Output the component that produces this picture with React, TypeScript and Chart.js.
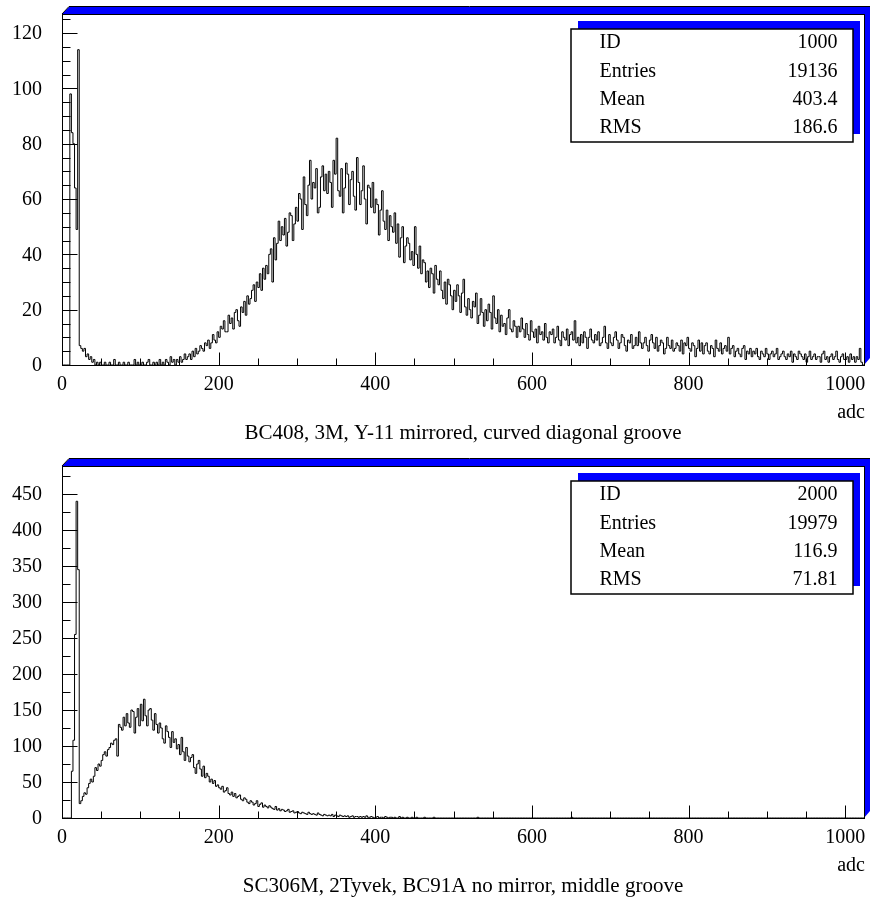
import React, { useEffect, useRef } from "react";
import Chart from "chart.js/auto";

// ---------------- data ----------------
const BIN_WIDTH = 2; // adc units per bin
const X_MIN = 0;
const X_MAX = 1024;
const X_TICK_LABELS = [0, 200, 400, 600, 800, 1000];
const X_MINOR_STEP = 50;
const X_TITLE = "adc";

// histogram ID 1000 (bins of 2 adc, from 0 to 1024)
const TOP_COUNTS = [
  0, 0, 0, 0, 0, 98, 84, 80, 64, 49,
  114, 7, 6, 5, 6, 3, 4, 2, 3, 1,
  2, 0, 1, 0, 1, 0, 0, 1, 0, 0,
  1, 0, 0, 2, 0, 0, 1, 0, 0, 1,
  0, 0, 1, 0, 0, 0, 2, 0, 1, 0,
  0, 1, 0, 0, 1, 2, 0, 0, 1, 0,
  1, 0, 2, 0, 1, 0, 2, 1, 0, 3,
  1, 2, 0, 2, 1, 3, 1, 2, 4, 2,
  3, 4, 2, 5, 3, 6, 4, 5, 7, 6,
  5, 8, 7, 9, 6, 8, 11, 9, 8, 12,
  10, 14, 13, 16, 12, 12, 18, 15, 17, 13,
  19, 20, 16, 14, 21, 19, 23, 18, 25, 22,
  24, 27, 29, 23, 30, 28, 33, 27, 35, 31,
  36, 33, 40, 42, 30, 46, 38, 44, 52, 45,
  50, 47, 53, 43, 48, 55, 54, 45, 51, 57,
  52, 62, 60, 49, 68, 58, 54, 65, 74, 60,
  66, 64, 71, 55, 57, 68, 72, 63, 69, 62,
  70, 66, 57, 74, 69, 82, 63, 61, 71, 55,
  64, 73, 69, 58, 67, 70, 61, 56, 75, 66,
  58, 63, 72, 60, 51, 65, 64, 57, 66, 55,
  60, 58, 47, 56, 63, 52, 49, 56, 45, 54,
  50, 48, 55, 44, 51, 39, 46, 50, 37, 43,
  46, 44, 38, 41, 36, 50, 40, 35, 43, 33,
  38, 37, 30, 34, 28, 35, 33, 26, 36, 31,
  29, 34, 27, 24, 30, 22, 31, 29, 25, 20,
  27, 23, 29, 25, 19, 26, 31, 21, 18, 24,
  20, 17, 23, 21, 26, 15, 18, 24, 19, 14,
  20, 16, 22, 19, 13, 25, 17, 15, 20, 12,
  18, 14, 15, 11, 17, 20, 13, 12, 16, 14,
  10, 14, 12, 17, 13, 10, 15, 11, 9, 16,
  12, 10, 13, 8, 14, 11, 12, 9, 15, 10,
  8, 12, 11, 13, 8, 10, 14, 9, 7, 12,
  10, 9, 13, 7, 11, 12, 9, 16, 8, 10,
  7, 11, 8, 12, 10, 6, 10, 13, 9, 8,
  11, 9, 12, 7, 8, 10, 14, 8, 6, 11,
  8, 7, 10, 12, 9, 6, 8, 11, 10, 7,
  5, 9, 8, 11, 6, 7, 10, 7, 12, 8,
  6, 8, 10, 7, 5, 9, 11, 8, 6, 10,
  5, 7, 9, 8, 4, 6, 10, 7, 6, 9,
  5, 6, 8, 7, 5, 9, 4, 8, 7, 10,
  6, 5, 8, 7, 3, 6, 9, 5, 8, 4,
  7, 8, 5, 4, 7, 6, 3, 9, 6, 5,
  8, 4, 6, 7, 5, 10, 4, 6, 7, 3,
  5, 6, 4, 3, 6, 7, 2, 5, 4, 6,
  3, 5, 4, 6, 3, 2, 5, 4, 3, 6,
  4, 2, 4, 5, 3, 4, 6, 2, 3, 4,
  5, 3, 2, 4, 3, 5, 1, 4, 3, 2,
  5, 4, 3, 2, 4, 1, 3, 5, 2, 3,
  4, 2, 3, 3, 1, 4, 5, 2, 3, 1,
  3, 4, 2, 3, 5, 2, 1, 3, 4, 2,
  2, 3, 1, 4, 2, 3, 1, 3, 2, 6,
  1, 0,
];
const TOP_Y_LABELS = [0, 20, 40, 60, 80, 100, 120];
const TOP_Y_MINOR_STEP = 5;
const TOP_Y_MAX = 126.9;
const TOP_TITLE = "BC408, 3M, Y-11 mirrored, curved diagonal groove";
const TOP_STAT_NAMES = ["ID", "Entries", "Mean", "RMS"];
const TOP_STAT_VALUES = ["1000", "19136", "403.4", "186.6"];

// histogram ID 2000 (bins of 2 adc, from 0 to 1024)
const BOTTOM_COUNTS = [
  0, 0, 0, 0, 0, 0, 65, 108, 255, 440,
  345, 20, 24, 30, 35, 33, 42, 48, 54, 50,
  58, 70, 66, 75, 72, 80, 88, 92, 86, 95,
  98, 104, 102, 108, 110, 86, 130, 126, 122, 140,
  128, 145, 132, 126, 150, 148, 118, 140, 152, 128,
  158, 135, 165, 142, 128, 150, 152, 136, 122, 145,
  130, 118, 132, 125, 110, 104, 128, 120, 112, 98,
  120, 105, 110, 96, 102, 88, 112, 92, 80, 98,
  86, 78, 84, 88, 70, 62, 75, 80, 68, 58,
  72, 56, 62, 58, 50, 54, 48, 52, 44, 46,
  42, 40, 44, 36, 38, 42, 34, 32, 36, 30,
  34, 28, 30, 32, 26, 24, 28, 26, 22, 20,
  24, 22, 18, 20, 24, 16, 19, 21, 15, 18,
  16, 14, 17, 15, 13, 12, 16, 11, 13, 10,
  12, 11, 9, 10, 12, 8, 9, 10, 7, 8,
  9, 7, 6, 8, 7, 6, 5, 8, 6, 5,
  6, 5, 4, 7, 5, 4, 3, 5, 4, 3,
  4, 3, 5, 2, 4, 3, 2, 4, 3, 2,
  3, 2, 3, 1, 2, 3, 1, 2, 2, 1,
  2, 1, 2, 1, 3, 1, 1, 2, 1, 0,
  1, 2, 0, 1, 1, 0, 2, 1, 0, 1,
  1, 0, 1, 0, 0, 2, 0, 1, 0, 0,
  1, 0, 0, 1, 0, 0, 1, 0, 0, 0,
  0, 1, 0, 0, 0, 0, 0, 1, 0, 0,
  0, 0, 0, 0, 0, 0, 0, 0, 0, 0,
  0, 0, 0, 0, 0, 0, 0, 0, 0, 0,
  0, 0, 0, 0, 0, 1, 0, 0, 0, 0,
  0, 0, 0, 0, 0, 0, 0, 0, 0, 0,
  0, 0, 0, 0, 0, 0, 0, 0, 0, 0,
  0, 0, 0, 0, 0, 0, 0, 0, 0, 0,
  0, 0, 0, 0, 0, 0, 0, 0, 0, 0,
  0, 0, 0, 0, 0, 0, 0, 0, 0, 0,
  0, 0, 0, 0, 0, 1, 0, 0, 0, 0,
  0, 0, 0, 0, 0, 0, 0, 0, 0, 0,
  0, 0, 0, 0, 0, 0, 0, 0, 0, 0,
  0, 0, 0, 0, 0, 0, 0, 0, 0, 0,
  0, 0, 0, 0, 0, 0, 0, 0, 0, 0,
  0, 0, 0, 0, 0, 0, 0, 0, 0, 0,
  0, 0, 0, 0, 0, 0, 0, 0, 0, 0,
  0, 0, 0, 0, 0, 0, 0, 0, 0, 0,
  0, 0, 0, 0, 0, 0, 0, 0, 0, 0,
  0, 0, 0, 0, 0, 0, 0, 0, 0, 0,
  0, 0, 0, 0, 0, 0, 0, 0, 0, 0,
  0, 0, 0, 0, 0, 0, 0, 0, 0, 0,
  0, 0, 0, 0, 0, 0, 0, 0, 0, 0,
  0, 0, 0, 0, 0, 0, 0, 0, 0, 0,
  0, 0, 0, 0, 0, 0, 0, 0, 0, 0,
  0, 0, 0, 0, 0, 0, 0, 0, 0, 0,
  0, 0, 0, 0, 0, 0, 0, 0, 0, 0,
  0, 0, 0, 0, 0, 0, 0, 0, 0, 0,
  0, 0, 0, 0, 0, 0, 0, 0, 0, 0,
  0, 0,
];
const BOTTOM_Y_LABELS = [0, 50, 100, 150, 200, 250, 300, 350, 400, 450];
const BOTTOM_Y_MINOR_STEP = 25;
const BOTTOM_Y_MAX = 489;
const BOTTOM_TITLE = "SC306M, 2Tyvek, BC91A no mirror, middle groove";
const BOTTOM_STAT_NAMES = ["ID", "Entries", "Mean", "RMS"];
const BOTTOM_STAT_VALUES = ["2000", "19979", "116.9", "71.81"];

// ---------------- drawing ----------------
const FONT = '20px "Liberation Serif", "Times New Roman", Times, serif';
const TITLE_FONT = '21px "Liberation Serif", "Times New Roman", Times, serif';
const BLUE = "#0000ff";
const W = 870;

type PanelCfg = {
  counts: number[];
  yMax: number;
  yLabels: number[];
  yMinorStep: number;
  title: string;
  statNames: string[];
  statValues: string[];
  top: number;
  height: number;
  padTop: number;
  padBottom: number;
};

function makePawPlugin(cfg: PanelCfg) {
  return {
    id: "pawFrame",
    beforeDatasetsDraw(chart: any) {
      const { ctx, chartArea: a } = chart;
      ctx.save();
      // blue 3D shadow of the frame
      ctx.fillStyle = BLUE;
      ctx.beginPath();
      ctx.moveTo(a.left, a.top);
      ctx.lineTo(a.left + 7, a.top - 7);
      ctx.lineTo(chart.width, a.top - 7);
      ctx.lineTo(chart.width, a.bottom - 7);
      ctx.lineTo(a.right, a.bottom);
      ctx.closePath();
      ctx.fill();
      ctx.strokeStyle = "#000";
      ctx.lineWidth = 1;
      ctx.beginPath();
      ctx.moveTo(a.left, a.top);
      ctx.lineTo(a.left + 7, a.top - 7.5);
      ctx.lineTo(chart.width, a.top - 7.5);
      ctx.stroke();
      ctx.fillStyle = "#fff";
      ctx.fillRect(a.left, a.top, a.right - a.left, a.bottom - a.top);
      ctx.restore();
    },
    afterDatasetsDraw(chart: any) {
      const { ctx, chartArea: a, scales } = chart;
      const xs = scales.x;
      const ys = scales.y;
      ctx.save();
      ctx.strokeStyle = "#000";
      ctx.lineWidth = 1;
      // frame
      ctx.strokeRect(a.left + 0.5, a.top + 0.5, a.right - a.left, a.bottom - a.top);
      // ticks (inward)
      ctx.beginPath();
      for (let v = X_MIN; v <= X_MAX; v += X_MINOR_STEP) {
        const px = Math.round(xs.getPixelForValue(v)) + 0.5;
        const major = X_TICK_LABELS.includes(v);
        ctx.moveTo(px, a.bottom + 0.5);
        ctx.lineTo(px, a.bottom + 0.5 - (major ? 13 : 7));
      }
      for (let v = 0; v <= cfg.yMax; v += cfg.yMinorStep) {
        const py = Math.round(ys.getPixelForValue(v)) + 0.5;
        const major = cfg.yLabels.includes(v);
        ctx.moveTo(a.left + 0.5, py);
        ctx.lineTo(a.left + 0.5 + (major ? 15 : 8), py);
      }
      ctx.stroke();

      // tick labels
      ctx.fillStyle = "#000";
      ctx.font = FONT;
      ctx.textAlign = "right";
      ctx.textBaseline = "middle";
      for (const v of cfg.yLabels) {
        ctx.fillText(String(v), a.left - 20, ys.getPixelForValue(v) + 1);
      }
      ctx.textAlign = "center";
      ctx.textBaseline = "alphabetic";
      for (const v of X_TICK_LABELS) {
        ctx.fillText(String(v), xs.getPixelForValue(v), a.bottom + 25);
      }
      // axis title
      ctx.textAlign = "right";
      ctx.fillText(X_TITLE, chart.width - 5, a.bottom + 52.5);
      // caption
      ctx.font = TITLE_FONT;
      ctx.textAlign = "center";
      ctx.fillText(cfg.title, (a.left + a.right) / 2, a.bottom + 74);

      // statistics box
      ctx.font = FONT;
      const bw = 282;
      const bh = 113;
      const bx = Math.round(a.right - 11 - bw);
      const by = Math.round(a.top + 15);
      ctx.fillStyle = BLUE;
      ctx.fillRect(bx + 7, by - 8, bw, bh);
      ctx.fillStyle = "#fff";
      ctx.fillRect(bx, by, bw, bh);
      ctx.lineWidth = 1.5;
      ctx.strokeStyle = "#000";
      ctx.strokeRect(bx, by, bw, bh);
      ctx.fillStyle = "#000";
      ctx.textBaseline = "middle";
      cfg.statNames.forEach((name, k) => {
        const ty = by + 14 + k * 28.3;
        ctx.textAlign = "left";
        ctx.fillText(name, bx + 28.5, ty);
        ctx.textAlign = "right";
        ctx.fillText(cfg.statValues[k], bx + bw - 15.5, ty);
      });
      ctx.restore();
    },
  };
}

function Panel({ cfg }: { cfg: PanelCfg }) {
  const ref = useRef<HTMLCanvasElement | null>(null);
  useEffect(() => {
    const canvas = ref.current;
    if (!canvas) return;
    const points = cfg.counts.map((v, i) => ({ x: X_MIN + i * BIN_WIDTH, y: v }));
    points.push({ x: X_MIN + cfg.counts.length * BIN_WIDTH, y: cfg.counts[cfg.counts.length - 1] });
    const chart = new Chart(canvas, {
      type: "line",
      data: {
        datasets: [
          {
            data: points,
            borderColor: "#000",
            borderWidth: 1,
            pointRadius: 0,
            stepped: "before",
            fill: false,
            tension: 0,
          },
        ],
      },
      options: {
        animation: false,
        responsive: false,
        maintainAspectRatio: false,
        events: [],
        layout: { padding: { left: 62, right: 6, top: cfg.padTop, bottom: cfg.padBottom } },
        plugins: { legend: { display: false }, tooltip: { enabled: false } },
        scales: {
          x: { type: "linear", min: X_MIN, max: X_MAX, display: false },
          y: { type: "linear", min: 0, max: cfg.yMax, display: false },
        },
      },
      plugins: [makePawPlugin(cfg)],
    } as any);
    return () => chart.destroy();
  }, [cfg]);
  return (
    <canvas
      ref={ref}
      width={W}
      height={cfg.height}
      style={{ position: "absolute", left: 0, top: cfg.top, width: W, height: cfg.height }}
    />
  );
}

const TOP_CFG: PanelCfg = {
  counts: TOP_COUNTS,
  yMax: TOP_Y_MAX,
  yLabels: TOP_Y_LABELS,
  yMinorStep: TOP_Y_MINOR_STEP,
  title: TOP_TITLE,
  statNames: TOP_STAT_NAMES,
  statValues: TOP_STAT_VALUES,
  top: 0,
  height: 448,
  padTop: 14,
  padBottom: 83,
};

const BOTTOM_CFG: PanelCfg = {
  counts: BOTTOM_COUNTS,
  yMax: BOTTOM_Y_MAX,
  yLabels: BOTTOM_Y_LABELS,
  yMinorStep: BOTTOM_Y_MINOR_STEP,
  title: BOTTOM_TITLE,
  statNames: BOTTOM_STAT_NAMES,
  statValues: BOTTOM_STAT_VALUES,
  top: 448,
  height: 449,
  padTop: 18,
  padBottom: 79,
};

export default function App() {
  return (
    <div style={{ position: "absolute", left: 0, top: 0, width: W, height: 897, background: "#fff" }}>
      <Panel cfg={TOP_CFG} />
      <Panel cfg={BOTTOM_CFG} />
    </div>
  );
}
